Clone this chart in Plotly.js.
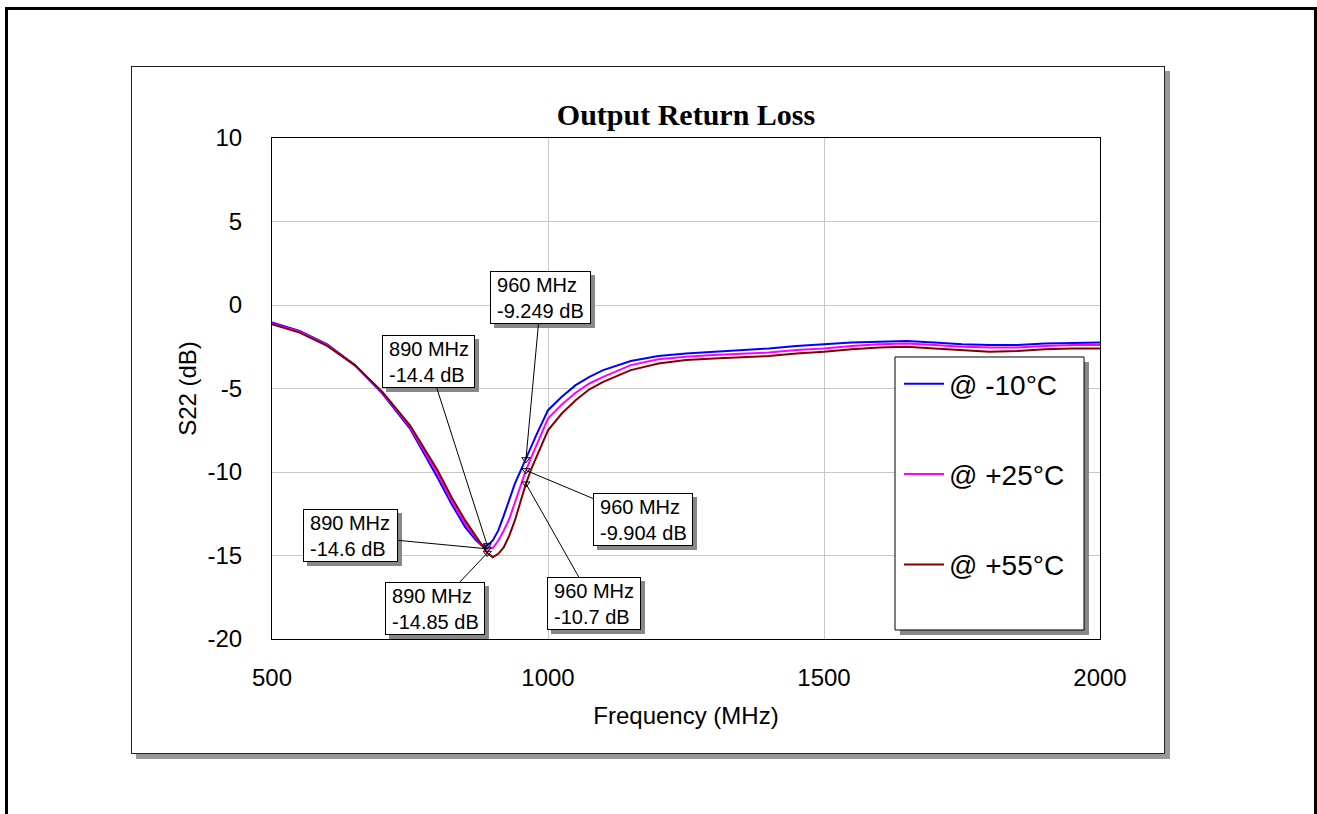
<!DOCTYPE html>
<html>
<head>
<meta charset="utf-8">
<script src="https://cdn.plot.ly/plotly-3.0.1.min.js"></script>
<style>
  html, body { margin: 0; padding: 0; background: #ffffff; }
  #wrap { position: relative; width: 1317px; height: 814px; overflow: hidden; }
  #outer { position: absolute; left: 5px; top: 7px; width: 1312px; height: 900px; border: 3px solid #000; box-sizing: border-box; }
  #inner { position: absolute; left: 131px; top: 66px; width: 1034px; height: 688px; border: 1px solid #222; box-sizing: border-box; background: #fff; box-shadow: 5px 5px 0 #999; }
  #chart { position: absolute; left: 0; top: 0; width: 1317px; height: 814px; }
</style>
</head>
<body>
<div id="wrap">
  <div id="outer"></div>
  <div id="inner"></div>
  <div id="chart"></div>
</div>
<script>
// Frequency points (MHz)
const freq = [500, 550, 600, 650, 700, 750, 800, 825, 850, 870, 880, 890, 900, 910, 920, 930, 940, 950, 960, 970, 980, 1000, 1025, 1050, 1075, 1100, 1150, 1200, 1250, 1300, 1400, 1450, 1500, 1550, 1600, 1650, 1700, 1750, 1800, 1850, 1900, 1950, 2000];

// S22 (dB) series
const s22_m10 = [-1.05, -1.55, -2.35, -3.6, -5.3, -7.4, -10.35, -11.9, -13.3, -14.1, -14.4, -14.4, -14.1, -13.5, -12.6, -11.6, -10.7, -9.95, -9.25, -8.45, -7.7, -6.3, -5.5, -4.8, -4.3, -3.9, -3.35, -3.05, -2.9, -2.8, -2.6, -2.45, -2.35, -2.25, -2.2, -2.15, -2.25, -2.35, -2.4, -2.4, -2.3, -2.28, -2.25];
const s22_p25 = [-1.1, -1.6, -2.4, -3.6, -5.25, -7.3, -10.1, -11.7, -13.1, -14.0, -14.4, -14.6, -14.55, -14.1, -13.5, -12.8, -11.8, -10.8, -9.9, -9.1, -8.3, -6.8, -5.95, -5.25, -4.7, -4.3, -3.6, -3.25, -3.1, -3.0, -2.85, -2.7, -2.6, -2.45, -2.35, -2.3, -2.4, -2.5, -2.55, -2.55, -2.45, -2.4, -2.4];
const s22_p55 = [-1.15, -1.65, -2.45, -3.6, -5.2, -7.2, -9.9, -11.5, -12.9, -13.9, -14.4, -14.85, -15.1, -14.9, -14.5, -13.8, -12.9, -11.8, -10.7, -9.8, -9.0, -7.5, -6.5, -5.7, -5.05, -4.6, -3.9, -3.5, -3.3, -3.2, -3.05, -2.9, -2.8, -2.65, -2.55, -2.5, -2.6, -2.7, -2.8, -2.75, -2.65, -2.6, -2.6];

const seriesNames = ['@ -10°C', '@ +25°C', '@ +55°C'];
const seriesColors = ['#0000ff', '#ff00ff', '#800000'];

// Markers
const markerFreq = [960, 890, 890, 890, 960, 960];
const markerVals = [-9.249, -14.4, -14.6, -14.85, -9.904, -10.7];
const markerLabels = ['960 MHz<br>-9.249 dB', '890 MHz<br>-14.4 dB', '890 MHz<br>-14.6 dB', '890 MHz<br>-14.85 dB', '960 MHz<br>-9.904 dB', '960 MHz<br>-10.7 dB'];
const markerOffsets = [[15, -162], [-59, -184], [-137, -13], [-52, 55], [117, 49], [68, 120]];
const markerBoxWidths = [95, 87, 89, 94, 94, 88];

const xTicks = [500, 1000, 1500, 2000];
const xTickText = ['500', '1000', '1500', '2000'];
const yTicks = [-20, -15, -10, -5, 0, 5, 10];
const yTickText = ['-20', '-15', '-10', '-5', '0', '5', '10'];

const FONT = 'Arial, "Liberation Sans", sans-serif';

const traces = [s22_m10, s22_p25, s22_p55].map((ys, i) => ({
  x: freq, y: ys, type: 'scatter', mode: 'lines', name: seriesNames[i],
  legendgroup: 'g' + i,
  line: { color: seriesColors[i], width: 2 }
}));
traces.push({
  x: markerFreq, y: markerVals, type: 'scatter', mode: 'markers', showlegend: false,
  marker: { symbol: 'triangle-down-open', size: 7, color: '#000', line: { width: 1, color: '#000' } },
  hoverinfo: 'skip'
});

const annotations = [];
markerLabels.forEach((t, i) => {
  const lines = t.split('<br>').map(s => '\u2009' + s).join('<br>');
  const base = {
    x: markerFreq[i], y: markerVals[i], xref: 'x', yref: 'y',
    text: lines, align: 'left', showarrow: true, arrowhead: 0, arrowwidth: 1,
    ax: markerOffsets[i][0], ay: markerOffsets[i][1], axref: 'pixel', ayref: 'pixel',
    width: markerBoxWidths[i], height: 47,
    borderpad: 2, borderwidth: 1, standoff: 0,
    font: { family: FONT, size: 20, color: '#000' }
  };
  annotations.push(Object.assign({}, base, {
    text: '\u00a0', xshift: 4, yshift: -4, bgcolor: '#888', bordercolor: '#888', arrowcolor: 'rgba(0,0,0,0)'
  }));
  annotations.push(Object.assign({}, base, { bgcolor: '#fff', bordercolor: '#000', arrowcolor: '#000' }));
});

const layout = {
  width: 1317, height: 814,
  paper_bgcolor: 'rgba(0,0,0,0)', plot_bgcolor: '#fff',
  margin: { l: 272, r: 217, t: 138, b: 175 },
  showlegend: true,
  title: {
    text: 'Output Return Loss', x: 0.5, xref: 'paper', xanchor: 'center',
    y: 1 - 114 / 814, yref: 'container', yanchor: 'middle',
    font: { family: '"Times New Roman", "Liberation Serif", serif', size: 30, color: '#000', weight: 'bold' }
  },
  xaxis: {
    range: [500, 2000], tickvals: xTicks, ticktext: xTickText, ticks: '', showgrid: true, gridcolor: '#c8c8c8', gridwidth: 1,
    zeroline: false, showline: true, mirror: true, linecolor: '#000', linewidth: 1,
    tickfont: { family: FONT, size: 24, color: '#000' }, ticklabelstandoff: 17,
    title: { text: 'Frequency (MHz)', font: { family: FONT, size: 24, color: '#000' }, standoff: 17 }
  },
  yaxis: {
    range: [-20, 10], tickvals: yTicks, ticktext: yTickText, ticks: '', showgrid: true, gridcolor: '#c8c8c8', gridwidth: 1,
    zeroline: false, showline: true, mirror: true, linecolor: '#000', linewidth: 1,
    tickfont: { family: FONT, size: 24, color: '#000' }, ticklabelstandoff: 24,
    title: { text: 'S22 (dB)', font: { family: FONT, size: 24, color: '#000' }, standoff: 4 }
  },
  legend: {
    x: (899 - 272) / 828, xanchor: 'left', y: (639 - 359) / 501, yanchor: 'top',
    bgcolor: 'rgba(0,0,0,0)', borderwidth: 0, traceorder: 'grouped', tracegroupgap: 51,
    itemwidth: 40,
    font: { family: FONT, size: 28, color: '#000' }
  },
  shapes: [
    { type: 'rect', xref: 'paper', yref: 'paper', x0: 0.7584, x1: 0.9867, y0: 0.008, y1: 0.5529,
      fillcolor: '#888', line: { width: 0 }, layer: 'above' },
    { type: 'rect', xref: 'paper', yref: 'paper', x0: 0.7524, x1: 0.9807, y0: 0.018, y1: 0.5629,
      fillcolor: '#fff', line: { width: 1, color: '#000' }, layer: 'above' }
  ],
  annotations: annotations
};

Plotly.newPlot('chart', traces, layout, { displayModeBar: false, staticPlot: true });
</script>
</body>
</html>
